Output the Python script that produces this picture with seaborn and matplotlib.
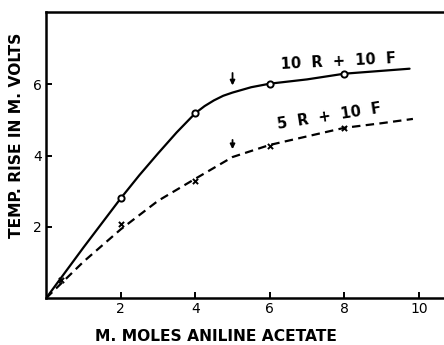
import matplotlib
matplotlib.use("Agg")
import matplotlib.pyplot as plt
import seaborn as sns
import pandas as pd

# ---- data ----
solid_x = [0, 1, 2, 2.5, 3, 3.5, 4, 4.25, 4.5, 4.75, 5, 5.5, 6, 7, 8, 9, 9.75]
solid_y = [0, 1.42, 2.8, 3.45, 4.06, 4.65, 5.19, 5.39, 5.55, 5.68, 5.77, 5.92, 6.02, 6.14, 6.30, 6.38, 6.44]
solid_pts_x = [2, 4, 6, 8]
solid_pts_y = [2.81, 5.19, 6.02, 6.30]

dash_x = [0, 1, 2, 3, 4, 5, 6, 7, 8, 9, 9.84]
dash_y = [0, 1.02, 1.93, 2.73, 3.35, 3.96, 4.3, 4.54, 4.78, 4.91, 5.03]
dash_pts_x = [0.4, 2, 4, 6, 8]
dash_pts_y = [0.5, 2.09, 3.29, 4.28, 4.77]

arrow_x = [5, 5]
arrow_top = [6.32, 4.44]
arrow_tip = [5.97, 4.18]

curve_labels = ["10  R  +  10  F", "5  R  +  10  F"]
label_x = [7.85, 7.6]
label_y = [6.65, 5.1]
label_rot = [3, 9]

x_ticks = [2, 4, 6, 8, 10]
y_ticks = [2, 4, 6]
x_title = "M. MOLES ANILINE ACETATE"
y_title = "TEMP. RISE IN M. VOLTS"

sns.set_style("ticks")
plt.rcParams['font.family'] = ['DejaVu Sans']
plt.rcParams['text.color'] = 'black'
plt.rcParams['axes.labelcolor'] = 'black'
plt.rcParams['xtick.color'] = 'black'
plt.rcParams['ytick.color'] = 'black'

fig = plt.figure(figsize=(4.44, 3.45), dpi=100)
ax = fig.add_axes([0.104, 0.136, 0.92, 0.829])

sns.lineplot(data=pd.DataFrame({"x": solid_x, "y": solid_y}), x="x", y="y",
             ax=ax, color="black", lw=1.6, sort=False)
sns.lineplot(data=pd.DataFrame({"x": dash_x, "y": dash_y}), x="x", y="y",
             ax=ax, color="black", lw=1.6, sort=False, linestyle=(0, (3.8, 2.4)))
sns.scatterplot(x=solid_pts_x, y=solid_pts_y, ax=ax, marker="o", s=20,
                facecolor="white", edgecolor="black", linewidth=1.4, zorder=5)
sns.scatterplot(x=dash_pts_x, y=dash_pts_y, ax=ax, marker="x", s=14,
                color="black", linewidth=1.4, zorder=5)

for xa, yt, yb in zip(arrow_x, arrow_top, arrow_tip):
    ax.annotate("", xy=(xa, yb), xytext=(xa, yt),
                arrowprops=dict(arrowstyle="-|>", color="black", lw=1.3,
                                mutation_scale=7, shrinkA=0, shrinkB=0))

for t, lx, ly, r in zip(curve_labels, label_x, label_y, label_rot):
    ax.text(lx, ly, t, ha="center", va="center", rotation=r,
            fontsize=10.5, fontweight="bold", color="black")

ax.set_xlim(0, 10.96)
ax.set_ylim(0, 8.03)
ax.set_xticks(x_ticks)
ax.set_yticks(y_ticks)
ax.tick_params(direction="in", length=4, width=1.4, labelsize=10, pad=3,
               colors="black")

for s in ["left", "bottom", "top"]:
    ax.spines[s].set_linewidth(1.8)
    ax.spines[s].set_color("black")
ax.spines["right"].set_visible(False)

ax.set_xlabel(x_title, fontsize=11.2, fontweight="heavy", color="black")
ax.set_ylabel(y_title, fontsize=11.2, fontweight="heavy", color="black")
ax.xaxis.set_label_coords(0.416, -0.108)
ax.yaxis.set_label_coords(-0.055, 0.57)

fig.savefig("out.png", dpi=100)
